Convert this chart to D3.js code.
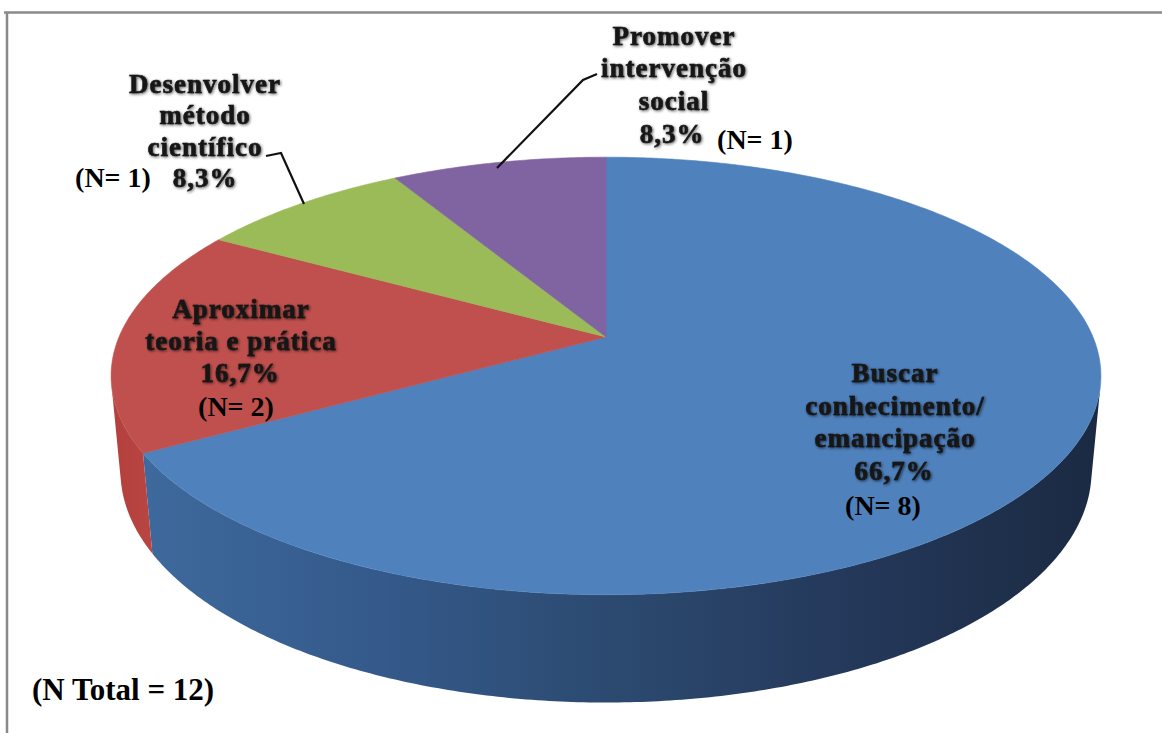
<!DOCTYPE html>
<html>
<head>
<meta charset="utf-8">
<script src="https://cdn.jsdelivr.net/npm/d3@7"></script>
<style>
  html, body { margin: 0; padding: 0; background: #ffffff; }
  svg { display: block; }
</style>
</head>
<body>
<svg id="chart" width="1162" height="733"></svg>
<script>
// ---- data ----
const categories = [
  "Buscar conhecimento/emancipação",
  "Aproximar teoria e prática",
  "Desenvolver método científico",
  "Promover intervenção social"
];
const categoryLines = [
  ["Buscar", "conhecimento/", "emancipação"],
  ["Aproximar", "teoria e prática"],
  ["Desenvolver", "método", "científico"],
  ["Promover", "intervenção", "social"]
];
const counts = [8, 2, 1, 1];
const totalLabel = "(N Total = 12)";

// ---- styles ----
const topColors  = ["#4f81bd", "#c0504d", "#9bbb59", "#8064a2"];
const wallColors = ["#2e4c74", "#b3413e", "#7f9a47", "#674f86"];

// ---- label layout (centre x, baselines of the name lines, percent line, count label) ----
const labelLayout = [
  { x: 895, lines: [382, 415, 447], pct: [894, 480], n: [883, 515] },
  { x: 241, lines: [318, 350],      pct: [240, 382], n: [236, 416] },
  { x: 205, lines: [93, 124, 156],  pct: [205, 187], n: [113, 187] },
  { x: 674, lines: [45, 77, 110],   pct: [672, 143], n: [755, 149] }
];

const svg = d3.select("#chart");
const total = d3.sum(counts);

// ---- 3D projection of the disc ----
const R = 487, depth = 106;
const tilt = Math.asin(0.435);
const camDist = 2463;
const cx = 606, cy = 337;
const cosT = Math.cos(tilt), sinT = Math.sin(tilt);

function project(theta, r, y) {
  const x = r * Math.sin(theta);
  const z = -r * Math.cos(theta);
  const d = z * cosT + y * sinT;
  const u = y * cosT - z * sinT;
  const s = camDist / (camDist - d);
  return [cx + x * s, cy - u * s];
}

// wall facing the camera where -R - D*cos(tilt)*cos(theta) > 0
const silhouette = Math.acos(-R / (camDist * cosT));
const wallFrom = silhouette, wallTo = 2 * Math.PI - silhouette;

const pie = d3.pie().sort(null).value(d => d)
  .startAngle(0).endAngle(2 * Math.PI);
const arcs = pie(counts);

const defs = svg.append("defs");

// horizontal shading for the blue wall
const gBlue = defs.append("linearGradient")
  .attr("id", "wall-0").attr("gradientUnits", "userSpaceOnUse")
  .attr("x1", 120).attr("x2", 1100).attr("y1", 0).attr("y2", 0);
[[0, "#3f6b9e"], [0.27, "#34598a"], [0.5, "#2c4a70"], [0.75, "#24385a"], [1, "#1b2a42"]]
  .forEach(([o, c]) => gBlue.append("stop").attr("offset", o).attr("stop-color", c));

const gRed = defs.append("linearGradient")
  .attr("id", "wall-1").attr("gradientUnits", "userSpaceOnUse")
  .attr("x1", 110).attr("x2", 160).attr("y1", 0).attr("y2", 0);
[[0, "#b2403d"], [1, "#bb4643"]]
  .forEach(([o, c]) => gRed.append("stop").attr("offset", o).attr("stop-color", c));

// soft shadow behind the category labels
const f = defs.append("filter").attr("id", "soft")
  .attr("x", "-10%").attr("y", "-30%").attr("width", "120%").attr("height", "160%");
f.append("feGaussianBlur").attr("in", "SourceAlpha").attr("stdDeviation", 1.6).attr("result", "b");
f.append("feOffset").attr("in", "b").attr("dx", 1).attr("dy", 1).attr("result", "o");
f.append("feComponentTransfer").attr("in", "o").attr("result", "t")
  .append("feFuncA").attr("type", "linear").attr("slope", 0.65);
const fm = f.append("feMerge");
fm.append("feMergeNode").attr("in", "t");
fm.append("feMergeNode").attr("in", "SourceGraphic");

const line = d3.line();

function sampleAngles(a0, a1) {
  const n = Math.max(2, Math.ceil((a1 - a0) / 0.01));
  return d3.range(n + 1).map(i => a0 + (a1 - a0) * i / n);
}

// ---- frame ----
svg.append("line").attr("x1", 4).attr("x2", 1162).attr("y1", 12.5).attr("y2", 12.5)
  .attr("stroke", "#8a8a8a").attr("stroke-width", 2.5);
svg.append("line").attr("x1", 7).attr("x2", 7).attr("y1", 12).attr("y2", 733)
  .attr("stroke", "#8a8a8a").attr("stroke-width", 2.5);

// ---- outer walls ----
const walls = svg.append("g");
arcs.forEach((a, i) => {
  const a0 = Math.max(a.startAngle, wallFrom);
  const a1 = Math.min(a.endAngle, wallTo);
  if (a1 <= a0) return;
  const angs = sampleAngles(a0, a1);
  const topEdge = angs.map(t => project(t, R, 0));
  const botEdge = angs.slice().reverse().map(t => project(t, R, -depth));
  walls.append("path")
    .attr("d", line(topEdge.concat(botEdge)) + "Z")
    .attr("fill", i < 2 ? `url(#wall-${i})` : wallColors[i]);
});

// ---- top faces ----
const tops = svg.append("g");
arcs.forEach((a, i) => {
  const pts = [project(0, 0, 0)].concat(
    sampleAngles(a.startAngle, a.endAngle).map(t => project(t, R, 0)));
  tops.append("path")
    .attr("d", line(pts) + "Z")
    .attr("fill", topColors[i])
    .attr("stroke", topColors[i]).attr("stroke-width", 0.6);
});

// ---- leader lines for the two narrow slices ----
const leaders = [
  [[266, 156], [281, 153], [304, 204]],
  [[597, 74], [583, 80], [497, 168]]
];
svg.append("g").selectAll("path").data(leaders).join("path")
  .attr("d", d => line(d))
  .attr("fill", "none").attr("stroke", "#111").attr("stroke-width", 2.2);

// ---- labels ----
const fmtPct = v => (v / total * 100).toFixed(1).replace(".", ",") + "%";
const labels = svg.append("g");
arcs.forEach((a, i) => {
  const L = labelLayout[i];
  const nameG = labels.append("g").attr("filter", "url(#soft)")
    .attr("font-family", "'Liberation Serif', 'Times New Roman', serif")
    .attr("font-weight", "bold").attr("font-size", 27)
    .attr("letter-spacing", 1).attr("fill", "#161616")
    .attr("stroke", "#161616").attr("stroke-width", 0.6)
    .attr("text-anchor", "middle");
  categoryLines[i].forEach((t, j) => {
    nameG.append("text").attr("x", L.x).attr("y", L.lines[j]).text(t);
  });
  nameG.append("text").attr("x", L.pct[0]).attr("y", L.pct[1]).text(fmtPct(a.data));

  labels.append("text")
    .attr("x", L.n[0]).attr("y", L.n[1])
    .attr("text-anchor", "middle")
    .attr("font-family", "'Liberation Serif', 'Times New Roman', serif")
    .attr("font-weight", "bold").attr("font-size", 28).attr("fill", "#000")
    .text(`(N= ${a.data})`);
});

svg.append("text")
  .attr("x", 32).attr("y", 700)
  .attr("font-family", "'Liberation Serif', 'Times New Roman', serif")
  .attr("font-weight", "bold").attr("font-size", 31).attr("fill", "#000")
  .text(totalLabel);
</script>
</body>
</html>
